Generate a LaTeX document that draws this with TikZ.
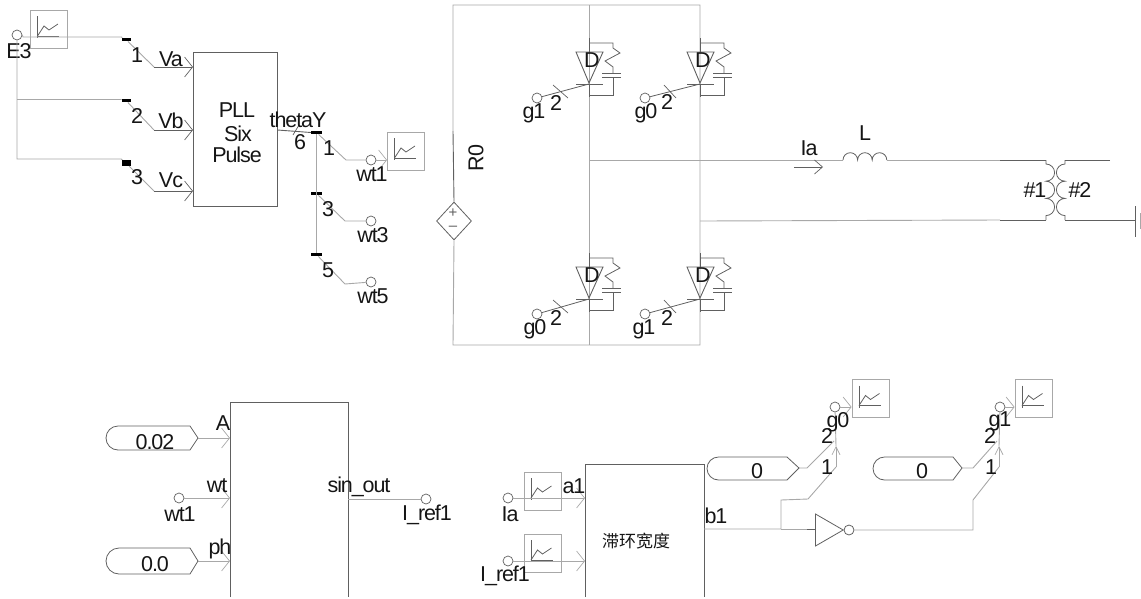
\documentclass[tikz,border=0pt]{standalone}
\usepackage{fontspec}
\setmainfont{Liberation Sans}[LetterSpace=-5]
\newfontfamily\cjkfont{Noto Sans CJK SC}
\usetikzlibrary{arrows.meta,shapes.geometric,calc}
\definecolor{wiregray}{HTML}{A8A8A8}
\definecolor{dark}{HTML}{606060}
\definecolor{ink}{HTML}{151515}
\tikzset{
  wire/.style={draw=wiregray,line width=0.9pt},
  dwire/.style={draw=dark,line width=0.9pt},
  chev/.style={-{Straight Barb[length=8pt,width=20pt,line width=0.7pt]}},
  upchev/.style={-{Straight Barb[length=8pt,width=8pt,line width=0.7pt]}},
  term/.style={circle,draw=dark,line width=0.7pt,minimum size=10pt,inner sep=0pt},
  bar/.style={fill=black,draw=none,minimum width=9pt,minimum height=3.5pt,inner sep=0pt},
  lab/.style={text=ink,inner sep=0pt,font=\fontsize{21.5}{22}\selectfont},
  scopebox/.style={draw=wiregray,line width=0.9pt,fill=none,minimum width=37pt,minimum height=38pt,inner sep=0pt},
  const/.style={draw=dark,line width=0.8pt},
  pics/scopeicon/.style={code={
    \draw[dark,line width=0.9pt] (-11.5,-13) -- (-11.5,9);
    \draw[dark,line width=0.9pt] (-11.5,7) -- (10,7);
    \draw[dark,line width=0.8pt] (-11.5,7) -- (-5,-3) -- (0,1) -- (9,-5);
  }},
  pics/igbt/.style={code={
    \draw[dark,line width=0.9pt] (-13,-32) -- (14,-32) -- (0,-1) -- cycle;
    \draw[dark,line width=0.9pt] (-13,0) -- (14,0);
    \draw[dark,line width=0.9pt] (0,-46) -- (0,-32) (0,0) -- (0,13);
    \draw[dark,line width=0.8pt] (0,-41) -- (24,-41) -- (24,-36) -- (31,-31) -- (16,-23) -- (24,-17) -- (24,-11);
    \draw[dark,line width=0.8pt] (13,-11) -- (32,-11) (13,-7) -- (32,-7);
    \draw[dark,line width=0.8pt] (24,-7) -- (24,11) -- (0,11);
  }}
}
\begin{document}
\begin{tikzpicture}[x=1pt,y=-1pt]
\useasboundingbox (0,0) rectangle (1141,598);
% ---------- PLL block
\node[draw=dark,line width=0.9pt,minimum width=84pt,minimum height=154pt,inner sep=0pt] (pll) at (235,129) {};
\node[lab] (pllA) at (237,110) {PLL};
\node[lab] (pllB) at (238,134) {Six};
\node[lab] (pllC) at (237,155) {Pulse};
\node[term] (e3) at (17,35) {};
\node[lab] (e3t) at (19,51) {E3};
\node[scopebox] (sE3) at (49,29) {};
\pic at (49,29) {scopeicon};
\node[bar] (ba) at (126,39.5) {};
\node[bar] (bb) at (126,100.5) {};
\node[bar,minimum height=6pt] (bc) at (126,163) {};
\coordinate (ja) at (154,67);
\coordinate (jb) at (154,130);
\coordinate (jc) at (154,191);
\coordinate (pa) at (193,67);
\coordinate (pb) at (193,130);
\coordinate (pc) at (193,191);
\draw[wire] (e3.east) -- (23,37) -- (ba.west |- 0,37) -- (ba);
\draw[wire] (e3.south) -- (17,159) -- (bc.west |- 0,159) -- (bc);
\draw[wire] (17,99) -- (bb.west |- 0,99) -- (bb);
\draw[wire] (ba) -- (ja);
\draw[wire] (bb) -- (jb);
\draw[wire] (bc) -- (jc);
\draw[dwire,chev] (ja) -- (pa);
\draw[dwire,chev] (jb) -- (pb);
\draw[dwire,chev] (jc) -- (pc);
\node[lab] (t1) at (137,55) {1};
\node[lab] (t2) at (137,116) {2};
\node[lab] (t3) at (137,177) {3};
\node[lab] (va) at (171,59) {Va};
\node[lab] (vb) at (171,121) {Vb};
\node[lab] (vc) at (171,180) {Vc};
% ---------- theta output
\node[bar,minimum width=11pt] (b1) at (316.5,132.5) {};
\node[bar,minimum width=11pt] (b3) at (316.5,193.5) {};
\node[bar,minimum width=11pt] (b5) at (316.5,254.5) {};
\draw[dwire] (pll.east |- 0,130) -- (b1.west);
\draw[dark,line width=0.7pt] (293,135) -- (299,125);
\draw[wire] (b1) -- (b5);
\node[term] (wt1) at (371,160) {};
\node[term] (wt3) at (371,221) {};
\node[term] (wt5) at (371,282) {};
\coordinate (k1) at (346,160);
\coordinate (k3) at (345,221);
\coordinate (k5) at (345,284);
\draw[wire] (b1) -- (k1) -- (wt1);
\draw[wire] (b3) -- (k3) -- (wt3);
\draw[wire] (b5) -- (k5) -- (wt5);
\node[scopebox] (sWt1) at (406,151) {};
\pic at (406,151) {scopeicon};
\draw[wire,chev] (wt1) -- (sWt1.west |- wt1);
\node[lab] (thY) at (298,120) {thetaY};
\node[lab] (n6) at (300,142) {6};
\node[lab] (o1) at (329,148) {1};
\node[lab] (o3) at (328,209) {3};
\node[lab] (o5) at (328,270) {5};
\node[lab] (wt1t) at (372,174) {wt1};
\node[lab] (wt3t) at (373,235) {wt3};
\node[lab] (wt5t) at (373,296) {wt5};
% ---------- bridge
\node[diamond,draw=dark,line width=0.8pt,minimum width=35pt,minimum height=38pt,inner sep=0pt] (src) at (454,221) {};
\node[inner sep=0pt,text=dark,font=\fontsize{15}{15}\selectfont] (srcP) at (453,213) {+};
\node[inner sep=0pt,text=dark,font=\fontsize{15}{15}\selectfont] (srcM) at (453,228) {--};
\coordinate (tl) at (453,5);
\coordinate (tm) at (589,5);
\coordinate (tr) at (700,5);
\coordinate (bl) at (453,345);
\coordinate (bm) at (589,345);
\coordinate (br) at (700,345);
\draw[dwire] (453,131) -- (src.north);
\draw[wire] (453,131) -- (tl) -- (tr) -- (br) -- (bl) -- (src.south);
\draw[wire] (tm) -- (bm);
\node[lab,rotate=90] (r0) at (476,158) {R0};
\pic at (589,84) {igbt};
\pic at (700,84) {igbt};
\pic at (589,299) {igbt};
\pic at (700,299) {igbt};
\node[lab] (d1) at (592,60) {D};
\node[lab] (d2) at (703,60) {D};
\node[lab] (d3) at (592,275) {D};
\node[lab] (d4) at (703,275) {D};
\node[term] (ga) at (537,98) {};
\node[term] (gb) at (645,98) {};
\node[term] (gc) at (537,314) {};
\node[term] (gd) at (645,314) {};
\coordinate (ca) at (589,84);
\coordinate (cb) at (700,84);
\coordinate (cc) at (589,299);
\coordinate (cd) at (700,299);
\draw[dark,line width=0.8pt] (ga) -- (ca) (gb) -- (cb) (gc) -- (cc) (gd) -- (cd);
\draw[dark,line width=0.7pt] (553,85) -- (568,98) (664,85) -- (676,98) (553,300) -- (568,313) (664,300) -- (676,313);
\node[lab] (gat) at (534,113) {g1};
\node[lab] (gbt) at (646,113) {g0};
\node[lab] (gct) at (535,329) {g0};
\node[lab] (gdt) at (644,329) {g1};
\node[lab] (ga2) at (556,103) {2};
\node[lab] (gb2) at (667,102) {2};
\node[lab] (gc2) at (556,318) {2};
\node[lab] (gd2) at (667,318) {2};
% ---------- output line, inductor, transformer
\coordinate (mida) at (589,160);
\coordinate (midb) at (700,221);
\coordinate (la) at (843,160);
\coordinate (lb) at (887,160);
\coordinate (xa) at (1046,160);
\coordinate (xb) at (1046,220);
\coordinate (xc) at (1065,160);
\coordinate (xd) at (1065,220);
\coordinate (xe) at (1110,160);
\coordinate (gnd) at (1135,220);
\draw[wire] (mida) -- (la);
\draw[dark,line width=0.8pt] (la) arc[start angle=180,end angle=360,radius=7.3] arc[start angle=180,end angle=360,radius=7.3] arc[start angle=180,end angle=360,radius=7.3];
\draw[wire] (lb) -- (1000,160);
\draw[wire] (midb) -- (1000,220);
\draw[dwire] (1000,160) -- (xa);
\draw[dwire] (1000,220) -- (xb);
\draw[dark,line width=0.8pt] (xa) -- (1046,164) arc[start angle=-90,end angle=90,radius=8.6] arc[start angle=-90,end angle=90,radius=8.6] arc[start angle=-90,end angle=90,radius=8.6] -- (xb);
\draw[dark,line width=0.8pt] (xc) -- (1065,164) arc[start angle=-90,end angle=-270,radius=8.6] arc[start angle=-90,end angle=-270,radius=8.6] arc[start angle=-90,end angle=-270,radius=8.6] -- (xd);
\draw[dwire] (xe) -- (xc);
\draw[dwire] (xd) -- (gnd);
\draw[dark,line width=0.9pt] (1135,206) -- (1135,237);
\draw[wiregray,line width=0.9pt] (1140,213) -- (1140,229);
\draw[dark,line width=0.7pt,-{Straight Barb[length=8pt,width=14pt,line width=0.7pt]}] (794,167) -- (823,167);
\node[lab] (iat) at (809,148) {Ia};
\node[lab] (lt) at (865,133) {L};
\node[lab] (n1) at (1035,190) {\#1};
\node[lab] (n2) at (1080,190) {\#2};
% ---------- sine block
\coordinate (sa) at (230,597);
\coordinate (sb) at (230,402);
\coordinate (sc) at (348,402);
\coordinate (sd) at (348,597);
\draw[dwire] (sa) -- (sb) -- (sc) -- (sd);
\coordinate (c1) at (198,438);
\coordinate (c2) at (198,561);
\draw[const] (c1) -- (190,426) -- (118,426) arc[start angle=-90,end angle=-270,radius=12] -- (190,450) -- cycle;
\draw[const] (c2) -- (190,548) -- (119,548) arc[start angle=-90,end angle=-270,radius=13] -- (190,574) -- cycle;
\node[lab] (v002) at (155,442) {0.02};
\node[lab] (v00) at (155,564) {0.0};
\node[term] (wt1b) at (179,498) {};
\draw[wire,chev] (c1) -- (sb |- c1);
\draw[wire,chev] (wt1b) -- (sb |- wt1b);
\draw[wire,chev] (c2) -- (sb |- c2);
\node[lab] (pa1) at (223,423) {A};
\node[lab] (pa2) at (217,486) {wt};
\node[lab] (pa3) at (220,549) {ph};
\node[lab] (wt1bt) at (180,514) {wt1};
\node[lab] (sout) at (359,487) {sin\_out};
\node[term] (iref) at (426,499) {};
\draw[wire] (sc |- iref) -- (iref);
\node[lab] (ireft) at (427,515) {I\_ref1};
% ---------- hysteresis block
\coordinate (ha) at (585,597);
\coordinate (hb) at (585,464);
\coordinate (hc) at (704,464);
\coordinate (hd) at (704,597);
\draw[dwire] (ha) -- (hb) -- (hc) -- (hd);
\node[inner sep=0pt,text=ink,font=\cjkfont\fontsize{17}{17}\selectfont] (hyst) at (636,541) {滞环宽度};
\node[term] (ia) at (508,498) {};
\node[term] (ir) at (508,561) {};
\node[scopebox] (sIa) at (542.5,491) {};
\pic at (542.5,491) {scopeicon};
\node[scopebox] (sIr) at (542.5,553) {};
\pic at (542.5,553) {scopeicon};
\draw[wire,chev] (ia.east) -- (hb |- ia);
\draw[wire,chev] (ir.east) -- (hb |- ir);
\node[lab] (a1t) at (574,486) {a1};
\node[lab] (iat2) at (510,514) {Ia};
\node[lab] (irt2) at (505,576) {I\_ref1};
\node[lab] (b1t) at (716,516) {b1};
% ---------- switches
\coordinate (w0) at (704,529);
\coordinate (w1) at (781,529);
\coordinate (w2) at (781,500);
\coordinate (w3) at (808,499);
\coordinate (w4) at (836,467);
\node[term] (g0o) at (835,407) {};
\node[scopebox] (sG0) at (870.5,398.5) {};
\pic at (870.5,398.5) {scopeicon};
\draw[wire,chev] (g0o) -- (sG0.west |- g0o);
\draw[wire] (w0) -- (w1) -- (w2) -- (w3) -- (w4);
\draw[wire,upchev] (w4) -- (836,446);
\draw[wire] (836,446) -- (g0o);
\coordinate (k0a) at (799,468);
\coordinate (k0b) at (807,468);
\coordinate (k0c) at (834,441);
\draw[const] (k0a) -- (787,457) -- (718.5,457) arc[start angle=-90,end angle=-270,radius=11.5] -- (787,480) -- cycle;
\draw[wire] (k0a) -- (k0b) -- (k0c);
\node[lab] (z0) at (757,471) {0};
\node[lab] (g0ot) at (838,422) {g0};
\node[lab] (s02) at (827,436) {2};
\node[lab] (s01) at (827,467) {1};
% inverter
\node[isosceles triangle,isosceles triangle apex angle=60,draw=dark,line width=0.8pt,fill=white,minimum height=27pt,minimum width=32pt,inner sep=0pt,anchor=apex] (inv) at (844,530) {};
\node[circle,draw=dark,line width=0.8pt,minimum size=10pt,inner sep=0pt] (bub) at (849,530) {};
\draw[dwire] (807,529.5) -- (inv.west |- 0,529.5);
\draw[wire] (w1) -- (807,529);
% second switch
\coordinate (u1) at (973,529);
\coordinate (u2) at (973,500);
\coordinate (u3) at (999,467);
\draw[wire] (bub) -- (u1 |- bub) -- (u2) -- (u3);
\node[circle,draw=dark,line width=0.7pt,minimum width=7pt,minimum height=10pt,inner sep=0pt] (g1o) at (1000,407) {};
\node[scopebox] (sG1) at (1033.5,398.5) {};
\pic at (1033.5,398.5) {scopeicon};
\draw[wire,chev] (g1o) -- (sG1.west |- g1o);
\draw[wire,upchev] (u3) -- (999,446);
\draw[wire] (999,446) -- (g1o);
\coordinate (k1a) at (962,468);
\coordinate (k1b) at (973,468);
\coordinate (k1c) at (997,441);
\draw[const] (k1a) -- (953,457) -- (884.5,457) arc[start angle=-90,end angle=-270,radius=11.5] -- (953,480) -- cycle;
\draw[wire] (k1a) -- (k1b) -- (k1c);
\node[lab] (z1) at (922,471) {0};
\node[lab] (g1ot) at (1000,421) {g1};
\node[lab] (s12) at (990,436) {2};
\node[lab] (s11) at (991,467) {1};
\end{tikzpicture}
\end{document}
